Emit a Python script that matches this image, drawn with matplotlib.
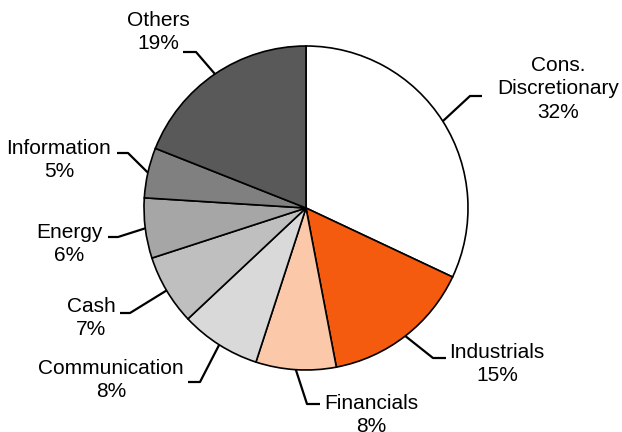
import numpy as np
import matplotlib.pyplot as plt

plt.rcParams['font.family'] = ['Liberation Sans', 'DejaVu Sans']

# data
sectors = ['Cons.\nDiscretionary', 'Industrials', 'Financials', 'Communication',
           'Cash', 'Energy', 'Information', 'Others']
shares = [32, 15, 8, 8, 7, 6, 5, 19]
colors = ['#FFFFFF', '#F55B0F', '#FBC8AA', '#D9D9D9', '#BFBFBF', '#A6A6A6', '#808080', '#595959']

# label layout in pixel coords (x, y from top): knee, line end, text centre
knees = [(470, 96), (433, 358), (307, 404), (200, 382), (130, 313), (118, 237), (128, 153), (196, 52)]
ends = [(482, 96), (446, 358), (320, 404), (188, 382), (120, 313), (108, 237), (117, 153), (183, 52)]
text_pos = [(558, 89), (497, 364), (371, 415), (111, 380), (91, 318), (69, 244), (59, 160), (158, 32)]

W, H = 622, 432
cx, cy, r = 306, 208, 162

fig = plt.figure(figsize=(W / 100, H / 100), dpi=100)
ax = fig.add_axes([0, 0, 1, 1])
wedges, _ = ax.pie(shares, colors=colors, startangle=90, counterclock=False,
                   center=(cx, H - cy), radius=r, frame=True,
                   wedgeprops=dict(edgecolor='black', linewidth=1.2))
ax.set_xlim(0, W)
ax.set_ylim(0, H)
ax.set_aspect('equal')
ax.axis('off')

for w, name, val, k, e, t in zip(wedges, sectors, shares, knees, ends, text_pos):
    ang = np.deg2rad((w.theta1 + w.theta2) / 2)
    x0 = cx + r * np.cos(ang)
    y0 = (H - cy) + r * np.sin(ang)
    ax.plot([x0, k[0], e[0]], [y0, H - k[1], H - e[1]], color='black', lw=1.6,
            solid_capstyle='butt', clip_on=False)
    ax.text(t[0], H - t[1], f'{name}\n{val}%', ha='center', va='center',
            fontsize=15, linespacing=1.3, multialignment='center', color='black')

fig.savefig('out.png', dpi=100)
